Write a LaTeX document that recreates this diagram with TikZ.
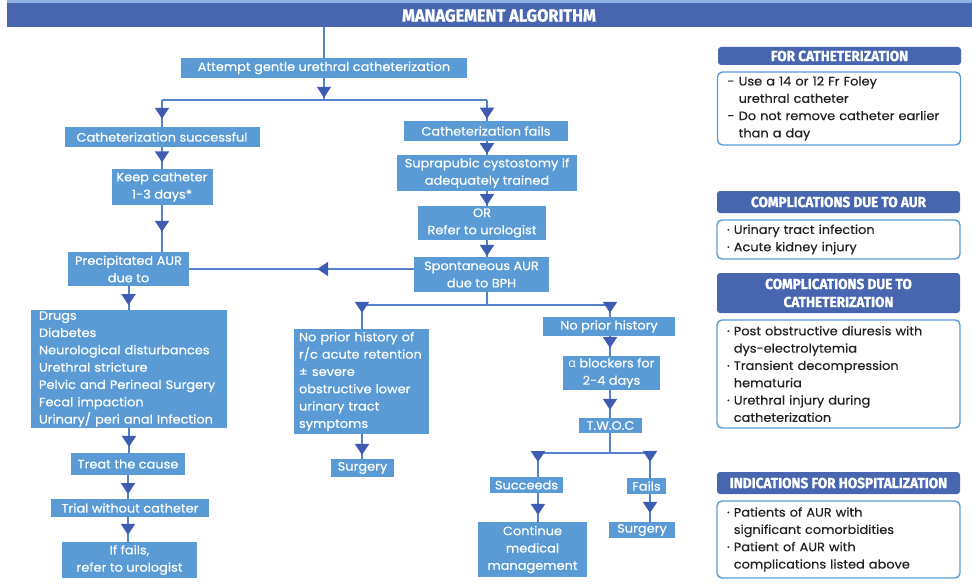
\documentclass[tikz,border=0pt]{standalone}
\usepackage{fontspec}
\setmainfont{Poppins}[FakeStretch=1.06, FakeBold=0.3]
\newfontfamily\headfont{Fira Sans}[FakeBold=1.2, FakeStretch=0.93]
\newfontfamily\greekfont{Open Sans}
\usetikzlibrary{arrows.meta}
\usetikzlibrary{decorations.markings}

\definecolor{boxblue}{RGB}{91,155,213}
\definecolor{lineblue}{RGB}{84,130,204}
\definecolor{tipblue}{RGB}{62,92,178}
\definecolor{headblue}{RGB}{72,101,176}
\definecolor{stripblue}{RGB}{143,177,226}
\definecolor{notetext}{RGB}{35,31,32}

\begin{document}
\begin{tikzpicture}[x=1pt, y=-1pt,
		sz/.style 2 args={minimum width=#1pt, minimum height=#2pt},
		box/.style={fill=boxblue, text=white, inner sep=0pt, align=center, font=\fontsize{12.2}{17.3}\selectfont},
		list/.style={box, align=left},
		head/.style={fill=headblue, rounded corners=3pt, text=white, inner sep=0pt, align=center, font=\headfont\bfseries\fontsize{14.6}{18}\selectfont},
		note/.style={draw=boxblue, line width=1.4pt, rounded corners=5pt, fill=white, text=notetext, inner sep=0pt, align=left, text width=223pt, font=\fontsize{12.2}{17.3}\selectfont},
		link/.style={draw=lineblue, line width=2pt},
		flow/.style={link, postaction={decorate}, decoration={markings, mark=at position #1 with {\arrow{Triangle[length=11pt, width=14pt, color=tipblue]}}}},
	]
	\useasboundingbox (0,0) rectangle (972,586);
	
	% title bar
	\fill[stripblue] (7,0) rectangle (972,3);
	\node[fill=headblue, inner sep=0pt, sz={965}{24}] (banner) at (489.5,15) {};
	\node[text=white, font=\headfont\bfseries\fontsize{17.6}{18}\selectfont] (title) at (499,15.5) {MANAGEMENT ALGORITHM};
	
	% flow chart boxes
	\node[box, sz={286}{20}] (attempt) at (324,68) {Attempt gentle urethral catheterization};
	\node[box, sz={195}{20}] (catsucc) at (162,137) {Catheterization successful};
	\node[box, sz={164}{20}] (catfail) at (486,131) {Catheterization fails};
	\node[box, sz={101}{36}] (keep) at (162,187) {Keep catheter\\1-3 days*};
	\node[box, sz={180}{36}] (supra) at (487,173) {Suprapubic cystostomy if\\adequately trained};
	\node[box, sz={128}{34}] (orref) at (482,223) {OR\\Refer to urologist};
	\node[box, sz={135}{35}] (spont) at (481.5,274.5) {Spontaneous AUR\\due to BPH};
	\node[box, sz={121}{34}] (precip) at (128.5,269) {Precipitated AUR\\due to};
	\node[list, sz={196}{118}, text width=180pt] (causes) at (129,369) {Drugs\\Diabetes\\Neurological disturbances\\Urethral stricture\\Pelvic and Perineal Surgery\\Fecal impaction\\Urinary/ peri anal Infection};
	\node[box, sz={114}{22}] (treat) at (128,464) {Treat the cause};
	\node[box, sz={158}{18}] (trial) at (130,508) {Trial without catheter};
	\node[box, sz={135}{36}] (iffail) at (129.5,560) {If fails,\\refer to urologist};
	\node[list, sz={135}{105}, text width=125pt] (history) at (361.5,381.5) {No prior history of\\r/c acute retention\\± severe\\obstructive lower\\urinary tract\\symptoms};
	\node[box, sz={63}{18}] (surgA) at (362.5,468) {Surgery};
	\node[box, sz={132}{19}] (noprior) at (609,326.5) {No prior history};
	\node[box, sz={97}{34}] (alpha) at (611.5,373) {{\greekfont α} blockers for\\2-4 days};
	\node[box, sz={63}{15}] (twoc) at (610.5,425.5) {T.W.O.C};
	\node[box, sz={73}{16}] (succ) at (526.5,485) {Succeeds};
	\node[box, sz={39}{16}] (fails) at (646.5,486) {Fails};
	\node[box, sz={109}{55}] (medical) at (532.5,549.5) {Continue\\medical\\management};
	\node[box, sz={66}{16}] (surgB) at (642,530) {Surgery};
	
	% junctions
	\coordinate (j1) at (324,100);
	\coordinate (jl) at (162,100);
	\coordinate (jr) at (487,100);
	\coordinate (j2) at (487,305);
	\coordinate (j2l) at (362,305);
	\coordinate (j2r) at (610,305);
	\coordinate (j3) at (610,453);
	\coordinate (j3l) at (538,453);
	\coordinate (j3r) at (650,453);
	
	% connectors
	\draw[link] (banner.south -| attempt.north) -- (attempt.north);
	\draw[flow=0.9] (attempt.south) -- (j1);
	\draw[link] (jl) -- (jr);
	\draw[flow=0.7] (jl) -- (catsucc.north);
	\draw[flow=0.9] (jr) -- (jr |- catfail.north);
	\draw[flow=0.95] (jr |- catfail.south) -- (jr |- supra.north);
	\draw[flow=0.95] (supra.south) -- (jr |- orref.north);
	\draw[flow=0.95] (jr |- orref.south) -- (jr |- spont.north);
	\draw[flow=0.43] (spont.west |- precip.east) -- (precip.east);
	\draw[flow=0.7] (catsucc.south) -- (keep.north);
	\draw[flow=0.57] (keep.south) -- (keep.south |- precip.north);
	\draw[flow=0.8] (precip.south) -- (precip.south |- causes.north);
	\draw[flow=0.76] (causes.south) -- (causes.south |- treat.north);
	\draw[flow=0.8] (treat.south) -- (treat.south |- trial.north);
	\draw[flow=0.72] (treat.south |- trial.south) -- (treat.south |- iffail.north);
	\draw[link] (jr |- spont.south) -- (j2);
	\draw[link] (j2l) -- (j2r);
	\draw[flow=0.33] (j2l) -- (j2l |- history.north);
	\draw[flow=0.84] (j2l |- history.south) -- (j2l |- surgA.north);
	\draw[flow=0.67] (j2r) -- (j2r |- noprior.north);
	\draw[flow=0.6] (j2r |- noprior.south) -- (j2r |- alpha.north);
	\draw[flow=0.71] (j2r |- alpha.south) -- (j2r |- twoc.north);
	\draw[link] (j2r |- twoc.south) -- (j3);
	\draw[link] (j3l) -- (j3r);
	\draw[flow=0.38] (j3l) -- (j3l |- succ.north);
	\draw[flow=0.36] (j3r) -- (j3r |- fails.north);
	\draw[flow=0.76] (j3l |- succ.south) -- (j3l |- medical.north);
	\draw[flow=0.68] (j3r |- fails.south) -- (j3r |- surgB.north);
	
	% side panels
	\node[head, sz={243}{18}] (forcath) at (839.5,56) {FOR CATHETERIZATION};
	\node[note, sz={243}{73}] (forcathnote) at (839,108.5) {- Use a 14 or 12 Fr Foley\\\phantom{- }urethral catheter\\- Do not remove catheter earlier\\\phantom{- }than a day};
	\node[head, sz={243}{22}] (compaur) at (838.5,202) {COMPLICATIONS DUE TO AUR};
	\node[note, sz={243}{39}] (compaurnote) at (838.5,239.5) {· Urinary tract infection\\· Acute kidney injury};
	\node[head, sz={243}{40}] (compcath) at (838.5,293) {COMPLICATIONS DUE TO\\CATHETERIZATION};
	\node[note, sz={243}{108}] (compcathnote) at (838.5,374) {· Post obstructive diuresis with\\\phantom{· }dys-electrolytemia\\· Transient decompression\\\phantom{· }hematuria\\· Urethral injury during\\\phantom{· }catheterization};
	\node[head, sz={243}{22}] (hosp) at (838.5,483) {INDICATIONS FOR HOSPITALIZATION};
	\node[note, sz={243}{77}] (hospnote) at (838.5,539.5) {· Patients of AUR with\\\phantom{· }significant comorbidities\\· Patient of AUR with\\\phantom{· }complications listed above};
\end{tikzpicture}
\end{document}
